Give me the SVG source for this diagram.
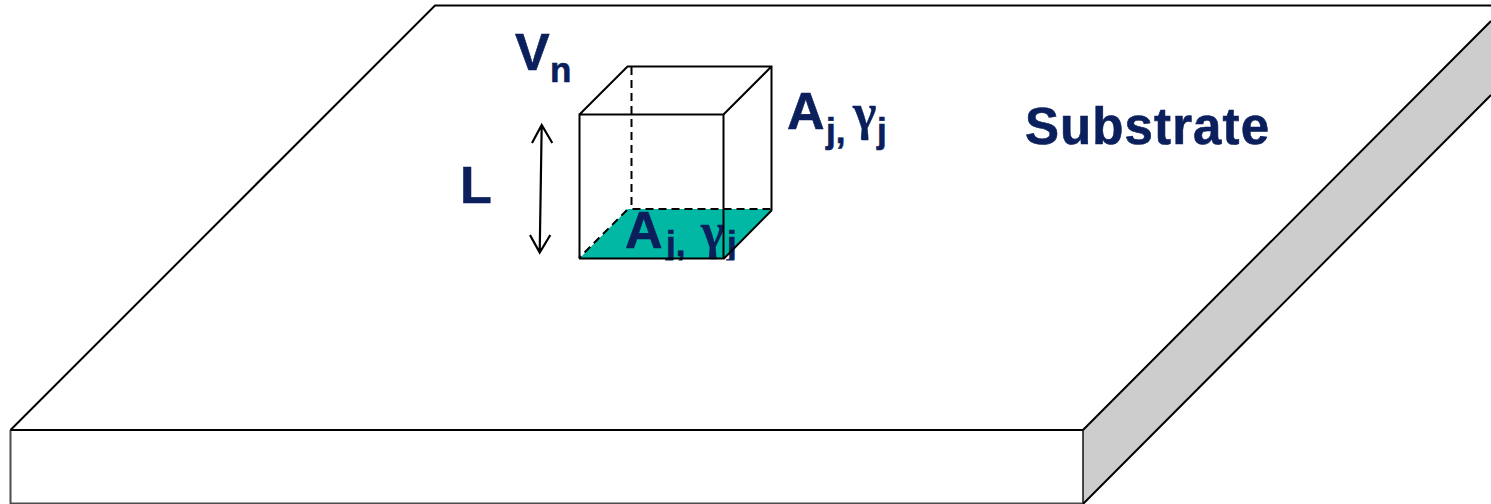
<svg xmlns="http://www.w3.org/2000/svg" width="1491" height="504" viewBox="0 0 1491 504">
<defs><clipPath id="cut"><rect x="600" y="200" width="150" height="60.500"/></clipPath></defs>
<style>
.e{fill:none;stroke:#000;stroke-width:2}
.d{fill:none;stroke:#000;stroke-width:2;stroke-dasharray:8 5}
.t{font-family:"Liberation Sans",Arial,sans-serif;font-weight:700;fill:#0a1f5c;stroke:#0a1f5c;stroke-width:.6}
.g{font-family:"Liberation Serif","Times New Roman",serif;font-weight:700;fill:#0a1f5c;stroke:#0a1f5c;stroke-width:.4;font-size:50px}
.big{font-size:52px}
.sub{font-size:35px}
</style>
<rect width="1491" height="504" fill="#fff"/>
<g id="substrate">
<polygon points="1083,430 1491,21 1491,95 1083,503.500" fill="#cdcdcd"/>
<path class="e" d="M10.500,430 L435,5.500 H1491"/>
<path class="e" d="M10.500,430 H1083 M1083,430 L1491,21 M1083,504 L1491,95"/>
<path class="e" d="M10.500,430 V504 M1083,430 V504 M10,503.500 H1083" stroke-opacity="0.7"/>
<text class="t" x="1025" y="143.500" font-size="51" letter-spacing="1.100">Substrate</text>
</g>
<g id="cube">
<polygon points="579,259 628,209 773,209 724,259" fill="#00b8a4"/>
<text class="t big" x="515" y="70">V</text>
<text class="t sub" x="550" y="82">n</text>
<text class="t big" x="787" y="129">A</text>
<text class="t sub" x="826" y="143">j,</text>
<text class="g" x="853" y="129">γ</text>
<text class="t sub" x="877" y="143">j</text>
<text class="t big" x="625" y="248">A</text>
<g clip-path="url(#cut)">
<text class="t sub" x="666" y="256">j,</text>
<text class="g" x="701" y="248">γ</text>
<text class="t sub" x="727" y="256">j</text>
</g>
<path class="d" d="M631.500,67 V209 H772 M627,210 L579,258"/>
<path class="e" d="M579.500,258.500 V114.500 H723.500 V258.500 M579,258.500 H724 L772,210 M579.500,114.500 L627.500,66.500 H771.500 V210 M723.500,114.500 L771.500,66.500"/>
</g>
<g id="length">
<path d="M541.700,125 L539.700,252.500 M532,143 L541.700,125 L552.300,143 M530,235 L539.700,252.500 L550.300,235" fill="none" stroke="#000" stroke-width="2.200"/>
<text class="t big" x="460" y="203">L</text>
</g>
</svg>
